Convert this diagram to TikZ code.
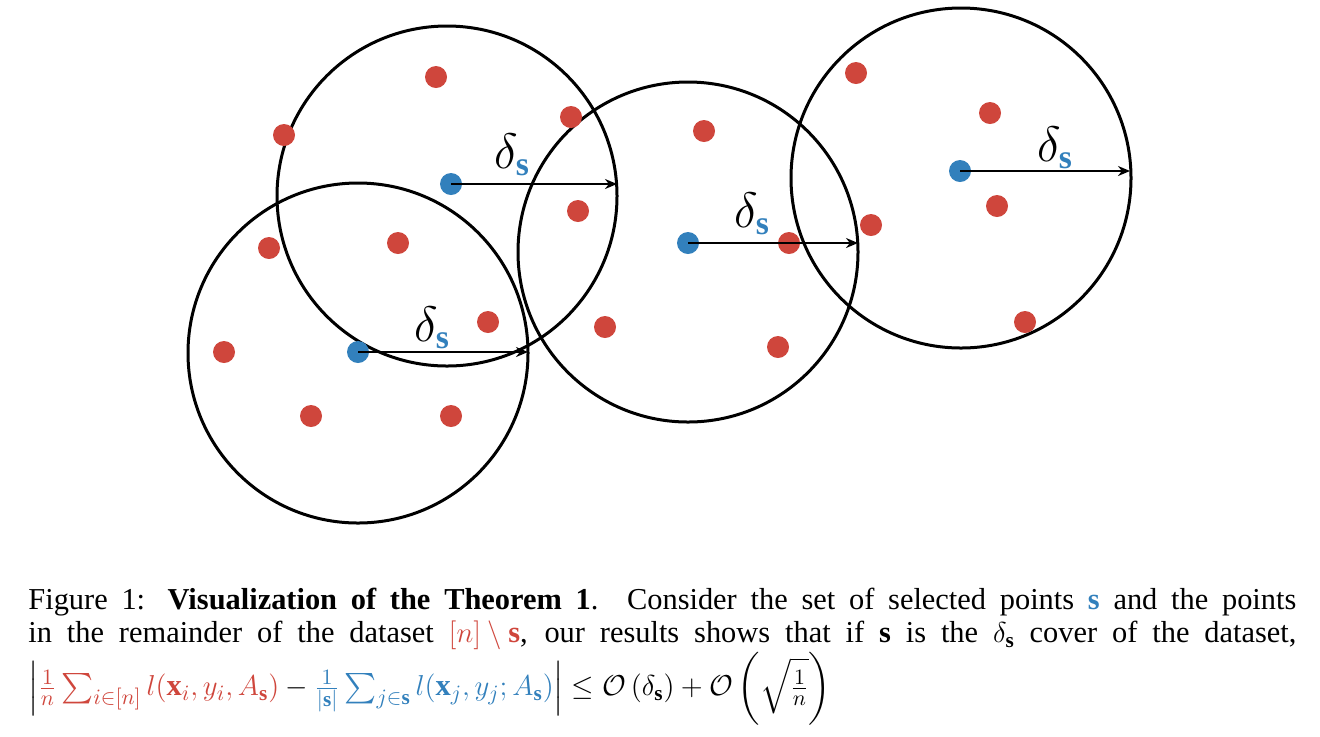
\documentclass[tikz,border=0pt]{standalone}
\usepackage{amsmath,amssymb}
\usepackage{fontspec}
\setmainfont{Liberation Serif}
\definecolor{rd}{RGB}{207,70,60}
\definecolor{bl}{RGB}{50,128,188}
\usetikzlibrary{arrows.meta}
\newcommand{\bs}{\boldsymbol{s}}
\tikzset{ring/.style={draw=black,line width=1.5pt},
 rdot/.style={circle,fill=rd,minimum size=11pt,inner sep=0pt},
 bdot/.style={circle,fill=bl,minimum size=11pt,inner sep=0pt},
 rad/.style={-{Stealth[length=6pt,width=5pt]},line width=1pt},
 lab/.style={font=\fontsize{24}{24}\selectfont}}
\begin{document}
\begin{tikzpicture}[x=0.5pt,y=-0.5pt]
\useasboundingbox (0,0) rectangle (1320,736);
\node[ring,circle,minimum size=170pt] (c1) at (447,196) {};
\node[ring,circle,minimum size=170pt] (c2) at (358,353) {};
\node[ring,circle,minimum size=170pt] (c3) at (688,252) {};
\node[ring,circle,minimum size=170pt] (c4) at (961,178) {};
\foreach \n/\p in {r1/{(436,77)},r2/{(284,135)},r3/{(571,117)},r4/{(578,211)},r5/{(269,248)},r6/{(398,243)},r7/{(488,322)},r8/{(224,352)},r9/{(311,416)},r10/{(451,416)},r11/{(704,131)},r12/{(605,327)},r13/{(778,347)},r14/{(789,243)},r15/{(856,73)},r16/{(990,113)},r17/{(997,206)},r18/{(871,225)},r19/{(1025,322)}}
  \node[rdot] (\n) at \p {};
\node[bdot] (b1) at (451,184) {};
\node[bdot] (b2) at (358,352) {};
\node[bdot] (b3) at (688,243) {};
\node[bdot] (b4) at (960,171) {};
\coordinate (e1) at (617,184);
\coordinate (e2) at (528,352);
\coordinate (e3) at (858,243);
\coordinate (e4) at (1130,171);
\draw[rad] (b1.center) -- (e1);
\draw[rad] (b2.center) -- (e2);
\draw[rad] (b3.center) -- (e3);
\draw[rad] (b4.center) -- (e4);
\node[lab] (l1) at (512,155) {$\delta_{\color{bl}\mathbf{s}}$};
\node[lab] (l2) at (432,328) {$\delta_{\color{bl}\mathbf{s}}$};
\node[lab] (l3) at (752,214) {$\delta_{\color{bl}\mathbf{s}}$};
\node[lab] (l4) at (1055,148) {$\delta_{\color{bl}\mathbf{s}}$};
\node[anchor=north west,inner sep=0pt,text width=634pt,align=justify,font=\fontsize{15.2}{16.5}\selectfont] (cap) at (28,588) {Figure 1: \textbf{Visualization of the Theorem 1}. Consider the set of selected points ${\color{bl}\mathbf{s}}$ and the points\linebreak in the remainder of the dataset ${\color{rd}[n]\setminus\mathbf{s}}$, our results shows that if $\mathbf{s}$ is the $\delta_{\mathbf{s}}$ cover of the dataset,\linebreak
\raisebox{-4pt}{$\left|{\color{rd}\frac{1}{n}\sum_{i\in[n]}l(\mathbf{x}_i,y_i,A_{\mathbf{s}})}-{\color{bl}\frac{1}{|\mathbf{s}|}\sum_{j\in\mathbf{s}}l(\mathbf{x}_j,y_j;A_{\mathbf{s}})}\right|\le\mathcal{O}\left(\delta_{\mathbf{s}}\right)+\mathcal{O}\left(\sqrt{\frac{1}{n}}\right)$}};
\end{tikzpicture}
\end{document}
